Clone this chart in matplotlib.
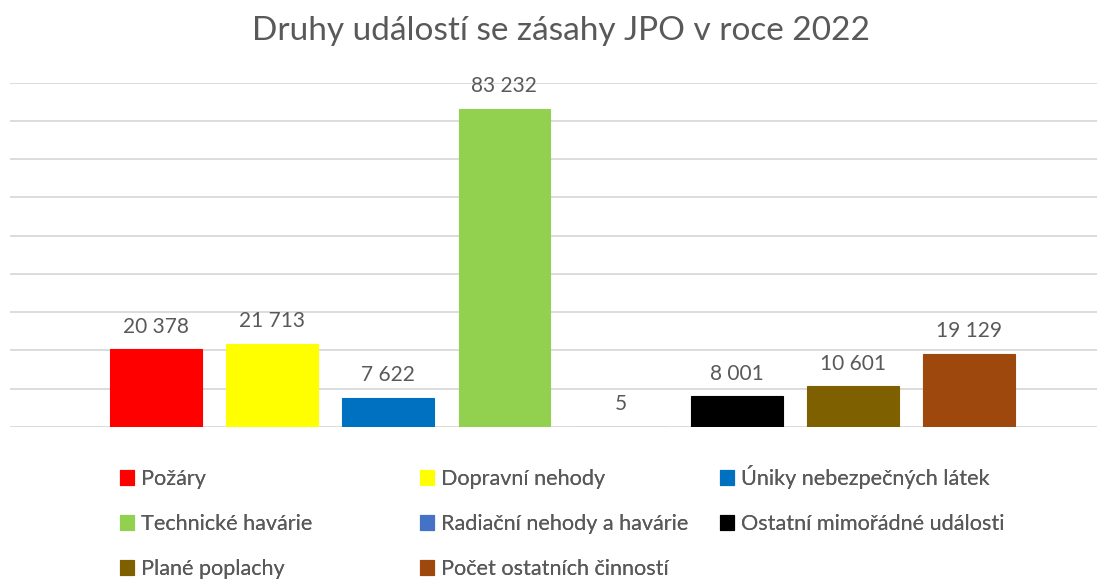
#!/usr/bin/env python3
"""Druhy událostí se zásahy JPO v roce 2022 - column chart."""
import matplotlib

matplotlib.use("Agg")
import matplotlib.pyplot as plt

plt.rcParams.update({"font.family": ["Lato", "DejaVu Sans"], "font.size": 15})

categories = [
    "Požáry",
    "Dopravní nehody",
    "Úniky nebezpečných látek",
    "Technické havárie",
    "Radiační nehody a havárie",
    "Ostatní mimořádné události",
    "Plané poplachy",
    "Počet ostatních činností",
]
values = [20378, 21713, 7622, 83232, 5, 8001, 10601, 19129]
colors = ["#FF0000", "#FFFF00", "#0070C0", "#92D050", "#4472C4", "#000000", "#7F6000", "#9E480E"]

TEXT = "#595959"
GRID = "#D9D9D9"
W, H = 1102, 581

fig = plt.figure(figsize=(W / 100, H / 100), dpi=100)
ax = fig.add_axes([10 / W, 1 - 427 / H, (1097 - 10) / W, (427 - 82.7) / H])

x = list(range(len(values)))
bars = []
for xi, v, c, lab in zip(x, values, colors, categories):
    b = ax.bar(xi, v, width=0.79, color=c, edgecolor=c, linewidth=0.8, label=lab, zorder=3)
    bars.append(b)
    ax.annotate(f"{v:,}".replace(",", " "), (xi, v), xytext=(0, 9), textcoords="offset points",
                ha="center", va="bottom", color=TEXT, fontsize=15)

ax.set_ylim(0, 90000)
ax.set_xlim(-1.257, 8.102)
ax.set_yticks(range(0, 90001, 10000))
ax.yaxis.grid(True, color=GRID, linewidth=1.3, zorder=0)
ax.tick_params(left=False, bottom=False, labelleft=False, labelbottom=False)
for s in ax.spines.values():
    s.set_visible(False)

fig.text(561 / W, 1 - 31 / H, "Druhy událostí se zásahy JPO v roce 2022", ha="center", va="center",
         color=TEXT, fontsize=24)

# legend: 3 columns filled row by row, like Excel
col_x = [120, 420, 720]
col_top = [469, 469, 465]  # third column has an accented capital on top
for ci, (cx, cy) in enumerate(zip(col_x, col_top)):
    idx = list(range(ci, len(bars), 3))
    leg = fig.legend([bars[i] for i in idx], [categories[i] for i in idx],
                     loc="upper left", bbox_to_anchor=(cx / W, 1 - cy / H),
                     frameon=False, fontsize=15.6, labelcolor=TEXT,
                     handlelength=0.65, handleheight=0.65, handletextpad=0.3,
                     labelspacing=1.16, borderaxespad=0, borderpad=0)
    fig.add_artist(leg)

fig.savefig("out.png", dpi=100)
print("wrote out.png")
